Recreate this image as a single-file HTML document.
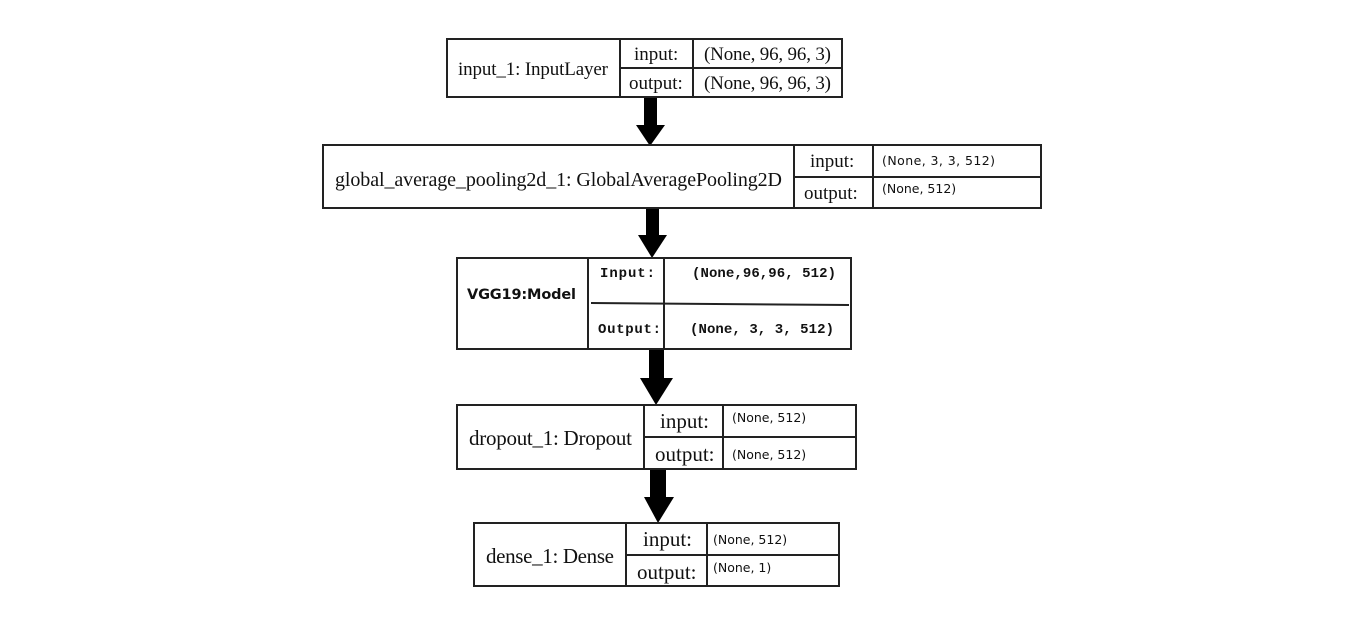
<!DOCTYPE html>
<html><head><meta charset="utf-8"><style>
html,body{margin:0;padding:0;background:#fff;width:1360px;height:623px;overflow:hidden}
svg{display:block}
.s{font-family:"Liberation Serif",serif;font-size:19px;fill:#111}
.L{font-size:21px}
.c{font-family:"DejaVu Sans","Liberation Sans",sans-serif;font-size:12.5px;fill:#111}
.m{font-family:"Liberation Mono",monospace;font-size:14px;font-weight:bold;fill:#111}
.b{font-family:"DejaVu Sans","Liberation Sans",sans-serif;font-size:14.5px;font-weight:bold;fill:#111}
rect,line{stroke:#222;stroke-width:2;fill:none}
</style></head><body>
<svg width="1360" height="623" xmlns="http://www.w3.org/2000/svg">
<g fill="#000">
<rect x="644" y="97" width="13" height="29" style="fill:#000;stroke:none"/><polygon points="636,125 665,125 650,146"/>
<rect x="646" y="208" width="13" height="28" style="fill:#000;stroke:none"/><polygon points="638,235 667,235 652,258"/>
<rect x="649" y="349" width="15" height="30" style="fill:#000;stroke:none"/><polygon points="640,378 673,378 656,405"/>
<rect x="650" y="469" width="16" height="29" style="fill:#000;stroke:none"/><polygon points="644,497 674,497 658,523"/>
</g>
<rect x="447" y="39" width="395" height="58"/>
<line x1="620" y1="39" x2="620" y2="97"/><line x1="693" y1="39" x2="693" y2="97"/><line x1="620" y1="68" x2="842" y2="68"/>
<text class="s" x="458" y="75" textLength="150">input_1: InputLayer</text>
<text class="s" x="634" y="60">input:</text><text class="s" x="629" y="89">output:</text>
<text class="s" x="704" y="60" textLength="127">(None, 96, 96, 3)</text><text class="s" x="704" y="89" textLength="127">(None, 96, 96, 3)</text>
<rect x="323" y="145" width="718" height="63"/>
<line x1="794" y1="145" x2="794" y2="208"/><line x1="873" y1="145" x2="873" y2="208"/><line x1="794" y1="177" x2="1041" y2="177"/>
<text class="s" x="335" y="186" textLength="447" style="font-size:20px">global_average_pooling2d_1: GlobalAveragePooling2D</text>
<text class="s" x="810" y="167">input:</text><text class="s" x="804" y="199">output:</text>
<text class="c" x="882" y="165" textLength="113">(None, 3, 3, 512)</text><text class="c" x="882" y="193">(None, 512)</text>
<rect x="457" y="258" width="394" height="91"/>
<line x1="588" y1="258" x2="588" y2="349"/><line x1="664" y1="258" x2="664" y2="349"/><line x1="591" y1="303" x2="849" y2="305"/>
<text class="b" x="467" y="299" textLength="109">VGG19:Model</text>
<text class="m" x="600" y="277" textLength="55">Input:</text><text class="m" x="598" y="333" textLength="63">Output:</text>
<text class="m" x="692" y="277" textLength="144">(None,96,96, 512)</text><text class="m" x="690" y="333" textLength="144">(None, 3, 3, 512)</text>
<rect x="457" y="405" width="399" height="64"/>
<line x1="644" y1="405" x2="644" y2="469"/><line x1="723" y1="405" x2="723" y2="469"/><line x1="644" y1="437" x2="856" y2="437"/>
<text class="s L" x="469" y="445" textLength="163">dropout_1: Dropout</text>
<text class="s L" x="660" y="428">input:</text><text class="s L" x="655" y="461">output:</text>
<text class="c" x="732" y="422">(None, 512)</text><text class="c" x="732" y="459">(None, 512)</text>
<rect x="474" y="523" width="365" height="63"/>
<line x1="626" y1="523" x2="626" y2="586"/><line x1="707" y1="523" x2="707" y2="586"/><line x1="626" y1="555" x2="839" y2="555"/>
<text class="s L" x="486" y="563" textLength="128">dense_1: Dense</text>
<text class="s L" x="643" y="546">input:</text><text class="s L" x="637" y="579">output:</text>
<text class="c" x="713" y="544">(None, 512)</text><text class="c" x="713" y="572">(None, 1)</text>
</svg>
</body></html>
